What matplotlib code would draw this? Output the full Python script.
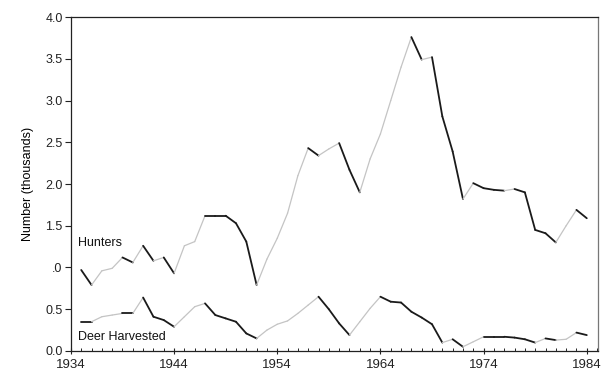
import numpy as np
import matplotlib
matplotlib.use('Agg')
import matplotlib.pyplot as plt
from matplotlib.collections import LineCollection
from matplotlib.ticker import FixedLocator, FixedFormatter, MultipleLocator

plt.rcParams['font.family'] = ['Liberation Sans', 'DejaVu Sans']

years = np.arange(1935, 1985)

# thousands of hunters per season
hunters = [0.97, 0.79, 0.96, 0.99, 1.12, 1.06, 1.26, 1.08, 1.12, 0.93,
           1.26, 1.31, 1.62, 1.62, 1.62, 1.53, 1.31, 0.79, 1.10, 1.35,
           1.65, 2.10, 2.43, 2.34, 2.42, 2.49, 2.17, 1.90, 2.30, 2.60,
           3.00, 3.40, 3.76, 3.49, 3.52, 2.81, 2.39, 1.82, 2.01, 1.95,
           1.93, 1.92, 1.94, 1.90, 1.45, 1.41, 1.30, 1.50, 1.69, 1.59]

# thousands of deer taken per season
deer = [0.35, 0.35, 0.41, 0.43, 0.45, 0.45, 0.64, 0.41, 0.37, 0.29,
        0.41, 0.53, 0.57, 0.43, 0.39, 0.35, 0.21, 0.15, 0.25, 0.32,
        0.36, 0.45, 0.55, 0.65, 0.50, 0.33, 0.19, 0.35, 0.51, 0.65,
        0.59, 0.58, 0.47, 0.40, 0.32, 0.10, 0.14, 0.05, 0.11, 0.17,
        0.17, 0.17, 0.16, 0.14, 0.10, 0.15, 0.13, 0.14, 0.22, 0.19]

ytick_vals = [0.0, 0.5, 1.0, 1.5, 2.0, 2.5, 3.0, 3.5, 4.0]
ytick_text = ['0.0', '0.5', '.0', '1.5', '2.0', '2.5', '3.0', '3.5', '4.0']
xtick_vals = [1934, 1944, 1954, 1964, 1974, 1984]


def draw_series(ax, x, y):
    # falling stretches print dark, rising stretches come out faint
    pts = np.column_stack([x, y])
    segs = np.stack([pts[:-1], pts[1:]], axis=1)
    dy = np.diff(y)
    colors = ['#1a1a1a' if d <= 0 else '#c4c4c4' for d in dy]
    widths = [1.3 if d <= 0 else 0.9 for d in dy]
    ax.add_collection(LineCollection(segs, colors=colors, linewidths=widths,
                                     capstyle='round', joinstyle='round'))


fig = plt.figure(figsize=(6.06, 3.79), dpi=100)
ax = fig.add_axes([0.117, 0.074, 0.870, 0.881])

draw_series(ax, years, np.array(hunters))
draw_series(ax, years, np.array(deer))

ax.set_xlim(1934, 1985.1)
ax.set_ylim(0, 4.0)

ax.yaxis.set_major_locator(FixedLocator(ytick_vals))
ax.yaxis.set_major_formatter(FixedFormatter(ytick_text))
ax.xaxis.set_major_locator(FixedLocator(xtick_vals))
ax.xaxis.set_minor_locator(MultipleLocator(1))

ax.tick_params(axis='y', direction='out', length=4, width=0.8, labelsize=9,
               pad=2, colors='#222222')
ax.tick_params(axis='x', which='major', direction='inout', length=4,
               width=0.8, labelsize=9.5, pad=4, colors='#222222')
ax.tick_params(axis='x', which='minor', direction='in', length=2, width=0.6)

for s in ax.spines.values():
    s.set_linewidth(0.9)
    s.set_color('#222222')
ax.spines['right'].set_color('#777777')

ax.set_ylabel('Number (thousands)', fontsize=9, labelpad=8)

ax.text(1934.7, 1.29, 'Hunters', fontsize=9, color='#111111', va='center')
ax.text(1934.7, 0.17, 'Deer Harvested', fontsize=9, color='#111111', va='center')

fig.savefig('out.png', dpi=100)
